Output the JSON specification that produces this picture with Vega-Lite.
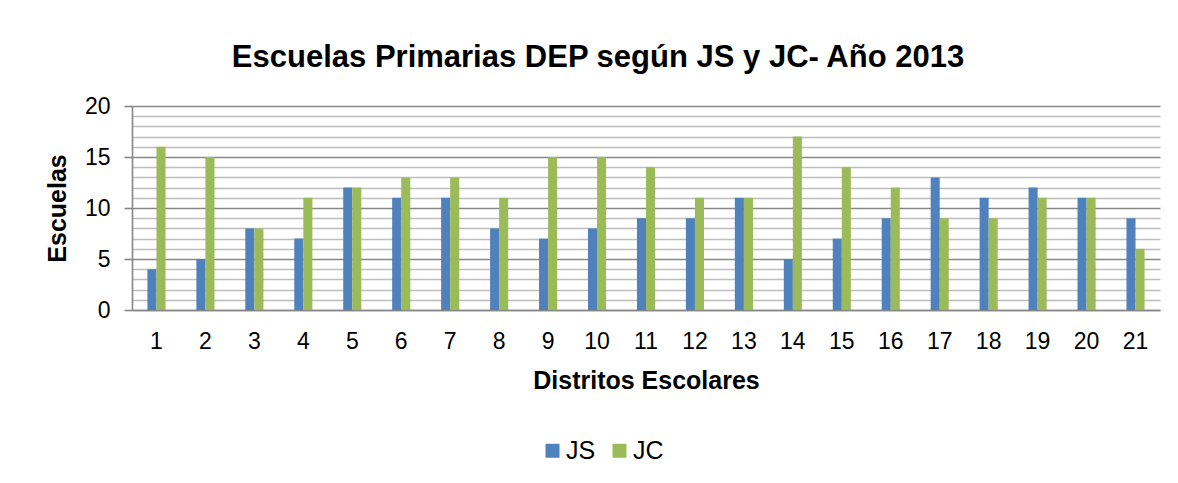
{
  "$schema": "https://vega.github.io/schema/vega-lite/v6.json",
  "autosize": {"type": "none"},
  "width": 1028,
  "height": 204,
  "padding": {"left": 132, "top": 106, "right": 18, "bottom": 173},
  "background": "white",
  "config": {
    "font": "Liberation Sans",
    "view": {"stroke": null}
  },
  "title": {
    "text": "Escuelas Primarias DEP según JS y JC- Año 2013",
    "fontSize": 31,
    "fontWeight": "bold",
    "color": "black",
    "anchor": "middle",
    "dx": -48,
    "offset": 21
  },
  "data": {
    "values": [
      {"d": 1, "s": "JS", "v": 4}, {"d": 1, "s": "JC", "v": 16},
      {"d": 2, "s": "JS", "v": 5}, {"d": 2, "s": "JC", "v": 15},
      {"d": 3, "s": "JS", "v": 8}, {"d": 3, "s": "JC", "v": 8},
      {"d": 4, "s": "JS", "v": 7}, {"d": 4, "s": "JC", "v": 11},
      {"d": 5, "s": "JS", "v": 12}, {"d": 5, "s": "JC", "v": 12},
      {"d": 6, "s": "JS", "v": 11}, {"d": 6, "s": "JC", "v": 13},
      {"d": 7, "s": "JS", "v": 11}, {"d": 7, "s": "JC", "v": 13},
      {"d": 8, "s": "JS", "v": 8}, {"d": 8, "s": "JC", "v": 11},
      {"d": 9, "s": "JS", "v": 7}, {"d": 9, "s": "JC", "v": 15},
      {"d": 10, "s": "JS", "v": 8}, {"d": 10, "s": "JC", "v": 15},
      {"d": 11, "s": "JS", "v": 9}, {"d": 11, "s": "JC", "v": 14},
      {"d": 12, "s": "JS", "v": 9}, {"d": 12, "s": "JC", "v": 11},
      {"d": 13, "s": "JS", "v": 11}, {"d": 13, "s": "JC", "v": 11},
      {"d": 14, "s": "JS", "v": 5}, {"d": 14, "s": "JC", "v": 17},
      {"d": 15, "s": "JS", "v": 7}, {"d": 15, "s": "JC", "v": 14},
      {"d": 16, "s": "JS", "v": 9}, {"d": 16, "s": "JC", "v": 12},
      {"d": 17, "s": "JS", "v": 13}, {"d": 17, "s": "JC", "v": 9},
      {"d": 18, "s": "JS", "v": 11}, {"d": 18, "s": "JC", "v": 9},
      {"d": 19, "s": "JS", "v": 12}, {"d": 19, "s": "JC", "v": 11},
      {"d": 20, "s": "JS", "v": 11}, {"d": 20, "s": "JC", "v": 11},
      {"d": 21, "s": "JS", "v": 9}, {"d": 21, "s": "JC", "v": 6}
    ]
  },
  "resolve": {"axis": {"y": "independent"}},
  "encoding": {
    "x": {
      "field": "d", "type": "ordinal",
      "scale": {"paddingInner": 0.63, "paddingOuter": 0.315},
      "axis": {
        "title": "Distritos Escolares",
        "titleFontSize": 25, "titleFontWeight": "bold", "titleColor": "black", "titlePadding": 15,
        "labelAngle": 0, "labelFontSize": 23, "labelColor": "black", "labelPadding": 20,
        "ticks": false, "domain": true, "domainColor": "#868686", "domainWidth": 1.6, "grid": false
      }
    },
    "xOffset": {"field": "s", "sort": ["JS", "JC"]}
  },
  "layer": [
    {
      "mark": {"type": "bar", "opacity": 0},
      "encoding": {
        "y": {
          "field": "v", "type": "quantitative",
          "scale": {"domain": [0, 20], "nice": false},
          "axis": {
            "orient": "right",
            "values": [1, 2, 3, 4, 6, 7, 8, 9, 11, 12, 13, 14, 16, 17, 18, 19],
            "grid": true, "gridColor": "#BDBDBD", "gridWidth": 1.6, "gridOpacity": 1,
            "labels": false, "ticks": false, "domain": false, "title": null
          }
        }
      }
    },
    {
      "mark": {"type": "bar"},
      "encoding": {
        "y": {
          "field": "v", "type": "quantitative",
          "scale": {"domain": [0, 20], "nice": false},
          "axis": {
            "orient": "left",
            "values": [0, 5, 10, 15, 20],
            "grid": true, "gridColor": "#878787", "gridWidth": 1.6, "gridOpacity": 1,
            "domain": true, "domainColor": "#868686", "domainWidth": 1.6,
            "ticks": true, "tickSize": 8, "tickColor": "#868686", "tickWidth": 1.6,
            "labelFontSize": 23, "labelColor": "black", "labelPadding": 14,
            "title": "Escuelas", "titleFontSize": 25, "titleFontWeight": "bold", "titleColor": "black", "titlePadding": 14
          }
        },
        "color": {
          "field": "s", "type": "nominal",
          "scale": {"domain": ["JS", "JC"], "range": ["#4F81BD", "#9BBB59"]},
          "legend": {
            "title": null,
            "orient": "none",
            "direction": "horizontal",
            "legendX": 408,
            "legendY": 332,
            "symbolType": "square",
            "symbolSize": 196,
            "symbolStrokeWidth": 0,
            "symbolOpacity": 1,
            "labelFontSize": 25,
            "labelColor": "black",
            "labelOffset": 1,
            "columnPadding": 11
          }
        }
      }
    }
  ]
}
